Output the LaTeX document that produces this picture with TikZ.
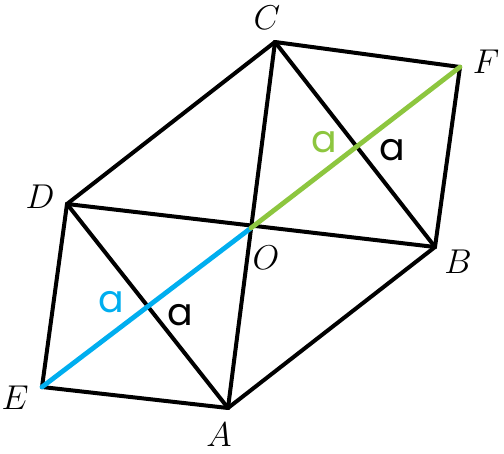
\documentclass[tikz,border=0pt]{standalone}
\usepackage{fontspec}
\usepackage{tikz}
\usetikzlibrary{positioning}
\newfontfamily\handfont{Poppins}
\definecolor{segblue}{RGB}{0,174,239}
\definecolor{seggreen}{RGB}{141,198,63}

\begin{document}
\begin{tikzpicture}[x=0.5bp,y=-0.5bp,line width=2bp,line join=round,line cap=round,
	pt/.style={font=\fontsize{19}{23}\selectfont, inner sep=0pt},
	len/.style={font=\handfont\fontsize{19}{22}\selectfont}]
				\useasboundingbox (0,0) rectangle (504,454);
				\coordinate (C) at (275, 42);
				\coordinate (F) at (460, 67);
				\coordinate (B) at (435, 247);
				\coordinate (O) at (251, 228);
				\coordinate (D) at (67, 204);
				\coordinate (E) at (42, 387);
				\coordinate (A) at (228, 408);

				\node[pt] (labC) at (267, 18) {$C$};
				\node[pt] (labF) at (486, 62) {$F$};
				\node[pt] (labB) at (458, 262) {$B$};
				\node[pt] (labO) at (266, 258) {$O$};
				\node[pt] (labD) at (40, 197) {$D$};
				\node[pt] (labE) at (15, 398) {$E$};
				\node[pt] (labA) at (219, 435) {$A$};

				\draw [-] (C) to (F);
				\draw [-] (F) to (B);
				\draw [-] (C) to (D);
				\draw [-] (D) to (E);
				\draw [-] (E) to (A);
				\draw [-] (A) to (B);
				\draw [-] (D) to (B);
				\draw [-] (C) to (A);
				\draw [-] (C) to (B);
				\draw [-] (D) to (A);
				\draw [-, segblue, line width=2.4bp] (E) to (O);
				\draw [-, seggreen, line width=2.4bp] (O) to (F);

				\node[len, text=segblue] (lenEO) at (111, 302) {a};
				\node[len] (lenDA) at (180, 315) {a};
				\node[len, text=seggreen] (lenOF) at (324, 142) {a};
				\node[len] (lenCB) at (392, 150) {a};
		\end{tikzpicture}
\end{document}
